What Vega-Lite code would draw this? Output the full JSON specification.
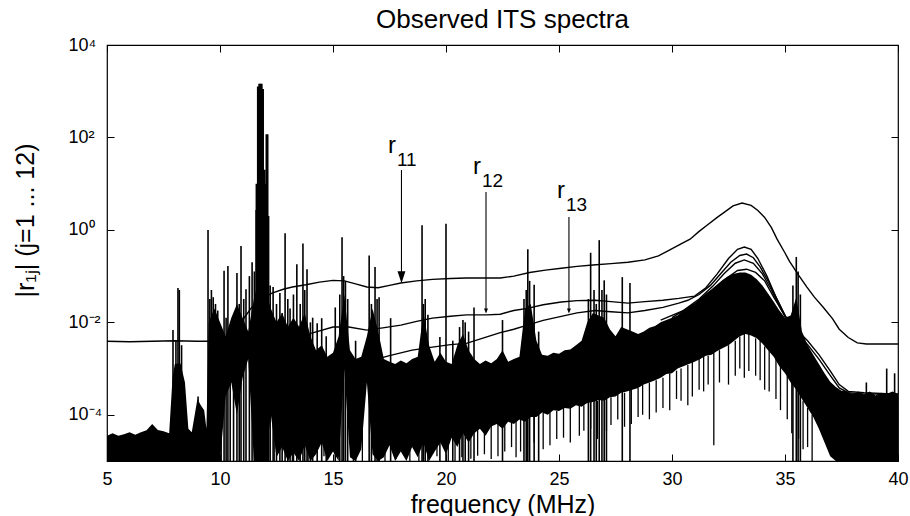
{
"$schema":"https://vega.github.io/schema/vega-lite/v6.json",
"width":791,"height":416,
"autosize":{"type":"none"},
"padding":{"left":107,"top":45,"right":12,"bottom":55},
"background":"white",
"title":{"text":"Observed ITS spectra","fontSize":26,"font":"Liberation Sans","fontWeight":"normal","color":"black","offset":3,"anchor":"middle"},
"config":{"font":"Liberation Sans","view":{"stroke":"black","strokeWidth":1.2},
 "axis":{"labelFont":"Liberation Sans","titleFont":"Liberation Sans","labelColor":"black","titleColor":"black","tickColor":"black","tickWidth":1,"grid":false,"domain":false,"labelFontSize":18,"titleFontSize":24,"titleFontWeight":"normal","labelFlush":false,"labelOverlap":false}},
"datasets":{
"noise":[
{"f":5,"hi":3.5e-5,"lo":1e-5},{"f":5.25,"hi":4.0e-5,"lo":1e-5},{"f":5.5,"hi":3.5e-5,"lo":1e-5},{"f":5.75,"hi":3.8e-5,"lo":1e-5},
{"f":6,"hi":4.2e-5,"lo":1e-5},{"f":6.25,"hi":3.7e-5,"lo":1e-5},{"f":6.5,"hi":4.2e-5,"lo":1e-5},{"f":6.75,"hi":4.6e-5,"lo":1e-5},
{"f":7,"hi":6.3e-5,"lo":1e-5},{"f":7.25,"hi":4.7e-5,"lo":1e-5},{"f":7.5,"hi":4.4e-5,"lo":1e-5},{"f":7.75,"hi":4.0e-5,"lo":1e-5},
{"f":7.9,"hi":6.3e-4,"lo":1e-5},{"f":8,"hi":1.26e-3,"lo":1e-5},{"f":8.25,"hi":1.3e-3,"lo":1e-5},{"f":8.45,"hi":5e-4,"lo":1e-5},
{"f":8.6,"hi":5e-5,"lo":1e-5},{"f":8.75,"hi":4.2e-5,"lo":1e-5},{"f":9,"hi":2.2e-4,"lo":1e-5},{"f":9.15,"hi":1.6e-4,"lo":1e-5},
{"f":9.3,"hi":1.26e-4,"lo":1e-5},{"f":9.4,"hi":5e-5,"lo":1e-5},{"f":9.5,"hi":1e-2,"lo":1e-5},{"f":9.75,"hi":2e-2,"lo":1e-5},
{"f":10,"hi":1e-2,"lo":1e-5},{"f":10.25,"hi":5e-3,"lo":2.5e-4},{"f":10.5,"hi":1.26e-2,"lo":5e-4},{"f":10.75,"hi":2.5e-2,"lo":1e-4},
{"f":11,"hi":1.26e-2,"lo":6.3e-4},{"f":11.25,"hi":6.3e-3,"lo":1.6e-3},{"f":11.5,"hi":3.2e-2,"lo":1e-5},{"f":11.75,"hi":0.1,"lo":1e-5},
{"f":12,"hi":5e-2,"lo":1e-5},{"f":12.25,"hi":2e-2,"lo":1e-4},{"f":12.5,"hi":1e-2,"lo":1.2e-5},{"f":12.75,"hi":1.6e-2,"lo":2e-5},
{"f":13,"hi":8e-3,"lo":1e-5},{"f":13.25,"hi":1.26e-2,"lo":1.5e-5},{"f":13.5,"hi":8e-3,"lo":1e-5},{"f":13.75,"hi":1.6e-2,"lo":2.2e-5},
{"f":14,"hi":5e-3,"lo":1e-5},{"f":14.25,"hi":2.5e-3,"lo":1.4e-5},{"f":14.5,"hi":3.2e-3,"lo":2.5e-5},{"f":14.75,"hi":1.8e-3,"lo":1e-5},
{"f":15,"hi":2.2e-3,"lo":1.6e-5},{"f":15.25,"hi":5e-3,"lo":1e-5},{"f":15.5,"hi":4e-2,"lo":1e-3},{"f":15.75,"hi":2.5e-3,"lo":1.2e-5},
{"f":16,"hi":1.6e-3,"lo":1e-5},{"f":16.25,"hi":1.8e-3,"lo":1.8e-5},{"f":16.5,"hi":5e-3,"lo":5e-4},{"f":16.75,"hi":2e-2,"lo":1.4e-5},
{"f":17,"hi":6.3e-3,"lo":1e-5},{"f":17.25,"hi":1.6e-3,"lo":1.2e-5},{"f":17.5,"hi":1.4e-3,"lo":2.2e-5},{"f":17.75,"hi":1.26e-3,"lo":1e-5},
{"f":18,"hi":1.5e-3,"lo":1.6e-5},{"f":18.25,"hi":1.3e-3,"lo":1e-5},{"f":18.5,"hi":1.6e-3,"lo":2e-5},{"f":18.75,"hi":1.8e-3,"lo":1.2e-5},
{"f":19,"hi":1.6e-2,"lo":2.5e-5},{"f":19.25,"hi":3.2e-3,"lo":1e-5},{"f":19.5,"hi":1.4e-3,"lo":1.6e-5},{"f":19.75,"hi":2.2e-3,"lo":2.5e-5},
{"f":20,"hi":1.4e-3,"lo":1.4e-5},{"f":20.25,"hi":1.26e-3,"lo":3.2e-5},{"f":20.5,"hi":3.2e-3,"lo":2e-5},{"f":20.75,"hi":5.6e-3,"lo":4e-5},
{"f":21,"hi":2.5e-3,"lo":2.5e-5},{"f":21.25,"hi":1.6e-3,"lo":4e-5},{"f":21.5,"hi":1.26e-3,"lo":5e-5},{"f":21.75,"hi":1.5e-3,"lo":3.5e-5},
{"f":22,"hi":1.3e-3,"lo":5.6e-5},{"f":22.25,"hi":1.6e-3,"lo":6.3e-5},{"f":22.5,"hi":2.5e-3,"lo":5e-5},{"f":22.75,"hi":1.4e-3,"lo":7.1e-5},
{"f":23,"hi":1.6e-3,"lo":6.3e-5},{"f":23.25,"hi":1.8e-3,"lo":7.9e-5},{"f":23.5,"hi":2e-2,"lo":7.1e-5},{"f":23.75,"hi":2.5e-2,"lo":8.9e-5},
{"f":24,"hi":4e-3,"lo":8.9e-5},{"f":24.25,"hi":2e-3,"lo":1.12e-4},{"f":24.5,"hi":1.9e-3,"lo":1e-4},{"f":24.75,"hi":2.2e-3,"lo":1.26e-4},
{"f":25,"hi":2.1e-3,"lo":1.2e-4},{"f":25.25,"hi":2.5e-3,"lo":1.4e-4},{"f":25.5,"hi":2.6e-3,"lo":1.35e-4},{"f":25.75,"hi":3.2e-3,"lo":1.6e-4},
{"f":26,"hi":4e-3,"lo":1.5e-4},{"f":26.25,"hi":1e-2,"lo":1.8e-4},{"f":26.5,"hi":1.6e-2,"lo":1.9e-4},{"f":26.75,"hi":1.4e-2,"lo":2.1e-4},
{"f":27,"hi":1.26e-2,"lo":2e-4},{"f":27.25,"hi":7.1e-3,"lo":2.4e-4},{"f":27.5,"hi":5e-3,"lo":2.5e-4},{"f":27.75,"hi":7.9e-3,"lo":3e-4},
{"f":28,"hi":7.1e-3,"lo":3.2e-4},{"f":28.25,"hi":6.3e-3,"lo":3.5e-4},{"f":28.5,"hi":5.6e-3,"lo":3.8e-4},{"f":28.75,"hi":6.3e-3,"lo":4.5e-4},
{"f":29,"hi":7.6e-3,"lo":5e-4},{"f":29.25,"hi":8.3e-3,"lo":5.6e-4},{"f":29.5,"hi":1e-2,"lo":6.3e-4},{"f":29.75,"hi":1.12e-2,"lo":7.6e-4},
{"f":30,"hi":1.26e-2,"lo":7.9e-4},{"f":30.25,"hi":1.4e-2,"lo":1e-3},{"f":30.5,"hi":1.8e-2,"lo":1.12e-3},{"f":30.75,"hi":2.2e-2,"lo":1.26e-3},
{"f":31,"hi":2.6e-2,"lo":1.4e-3},{"f":31.25,"hi":3.3e-2,"lo":1.6e-3},{"f":31.5,"hi":4.2e-2,"lo":1.9e-3},{"f":31.75,"hi":5.2e-2,"lo":2e-3},
{"f":32,"hi":6.6e-2,"lo":2.4e-3},{"f":32.25,"hi":8.3e-2,"lo":2.8e-3},{"f":32.5,"hi":0.1,"lo":3.2e-3},{"f":32.75,"hi":0.112,"lo":4e-3},
{"f":33,"hi":0.12,"lo":5e-3},{"f":33.25,"hi":0.12,"lo":5.6e-3},{"f":33.5,"hi":0.107,"lo":5.2e-3},{"f":33.75,"hi":8.5e-2,"lo":4.5e-3},
{"f":34,"hi":6.3e-2,"lo":3.5e-3},{"f":34.25,"hi":4.2e-2,"lo":2.5e-3},{"f":34.5,"hi":2.8e-2,"lo":1.8e-3},{"f":34.75,"hi":1.8e-2,"lo":1.12e-3},
{"f":35,"hi":1.26e-2,"lo":7.9e-4},{"f":35.25,"hi":1.4e-2,"lo":5e-4},{"f":35.5,"hi":3.5e-2,"lo":3.5e-4},{"f":35.75,"hi":6.3e-3,"lo":2.2e-4},
{"f":36,"hi":3.2e-3,"lo":1.4e-4},{"f":36.25,"hi":2e-3,"lo":8.9e-5},{"f":36.5,"hi":1.26e-3,"lo":5e-5},{"f":36.75,"hi":7.9e-4,"lo":2.5e-5},
{"f":37,"hi":5.2e-4,"lo":1.26e-5},{"f":37.25,"hi":4e-4,"lo":1e-5},{"f":37.5,"hi":3.3e-4,"lo":1e-5},{"f":37.75,"hi":3.2e-4,"lo":1e-5},
{"f":38,"hi":2.8e-4,"lo":1e-5},{"f":38.25,"hi":3.2e-4,"lo":1e-5},{"f":38.5,"hi":2.75e-4,"lo":1e-5},{"f":38.75,"hi":3.2e-4,"lo":1e-5},
{"f":39,"hi":2.6e-4,"lo":1e-5},{"f":39.25,"hi":3e-4,"lo":1e-5},{"f":39.5,"hi":2.8e-4,"lo":1e-5},{"f":39.75,"hi":3.2e-4,"lo":1e-5},
{"f":40,"hi":2.8e-4,"lo":1e-5}
],
"spikes":[
{"f":7.92,"top":6.8e-3},{"f":8.05,"top":4e-3},{"f":8.14,"top":5.5e-2},{"f":8.2,"top":5e-2},{"f":8.3,"top":3.2e-3},{"f":9.03,"top":2.5e-4},
{"f":9.47,"top":1.0},{"f":9.55,"top":3.2e-2},{"f":9.62,"top":5e-2},{"f":9.7,"top":3.5e-2},{"f":9.8,"top":2.5e-2},{"f":9.9,"top":1.8e-2},
{"f":10.05,"top":6.3e-3},{"f":10.18,"top":0.13},{"f":10.27,"top":1.26e-2},{"f":10.35,"top":0.166},{"f":10.45,"top":7.9e-3},{"f":10.6,"top":1.26e-2},
{"f":10.75,"top":0.117},{"f":10.85,"top":2.5e-2},{"f":10.93,"top":0.447},{"f":11.05,"top":3.2e-2},{"f":11.15,"top":5.2e-2},{"f":11.3,"top":0.1},
{"f":11.42,"top":0.2},{"f":11.52,"top":0.126},{"f":11.6,"top":2.7},{"f":12.15,"top":2.0},{"f":12.22,"top":6.3e-2},{"f":12.35,"top":5.8e-2},
{"f":12.5,"top":2.5e-2},{"f":12.65,"top":4.3e-2},{"f":12.75,"top":1.6e-2},{"f":12.88,"top":0.85},{"f":13.0,"top":3.2e-2},{"f":13.1,"top":2e-2},
{"f":13.25,"top":4e-2},{"f":13.4,"top":0.18},{"f":13.55,"top":2.5e-2},{"f":13.67,"top":0.51},{"f":13.75,"top":5e-2},{"f":13.85,"top":0.141},
{"f":14.0,"top":1e-2},{"f":14.1,"top":1.26e-2},{"f":14.3,"top":9.5e-3},{"f":14.5,"top":1.23e-2},{"f":14.7,"top":5e-3},{"f":15.1,"top":2.1e-2},
{"f":15.3,"top":4e-2},{"f":15.4,"top":0.69},{"f":15.47,"top":0.1},{"f":15.55,"top":7.9e-2},{"f":15.65,"top":3.2e-2},{"f":16.0,"top":4e-3},
{"f":16.6,"top":0.28},{"f":16.7,"top":2.5e-2},{"f":16.86,"top":0.158},{"f":16.95,"top":3.2e-2},{"f":17.04,"top":3.5e-2},{"f":17.55,"top":1.23e-2},
{"f":18.94,"top":1.26},{"f":19.0,"top":2.5e-2},{"f":19.08,"top":3.2e-2},{"f":19.2,"top":1.45e-2},{"f":19.73,"top":4.8e-3},{"f":20.0,"top":1.35},
{"f":20.3,"top":4e-3},{"f":20.6,"top":7.9e-3},{"f":20.75,"top":1.12e-2},{"f":20.85,"top":1e-2},{"f":21.0,"top":6.3e-3},{"f":21.24,"top":2.1e-2},
{"f":22.5,"top":1.12e-2},{"f":23.45,"top":3.2e-2},{"f":23.55,"top":5e-2},{"f":23.62,"top":0.38},{"f":23.7,"top":7.9e-2},{"f":23.9,"top":6.5e-2},
{"f":24.1,"top":6.3e-3},{"f":26.3,"top":3.2e-2},{"f":26.4,"top":0.32},{"f":26.55,"top":5e-2},{"f":26.65,"top":2.5e-2},{"f":26.78,"top":0.6},
{"f":26.9,"top":5e-2},{"f":27.0,"top":8.1e-2},{"f":27.1,"top":4e-2},{"f":27.8,"top":9.5e-2},{"f":28.14,"top":7.1e-2},{"f":35.35,"top":6.3e-2},
{"f":35.5,"top":0.26},{"f":35.58,"top":0.126},{"f":35.68,"top":4e-2},{"f":38.6,"top":5e-4},{"f":39.5,"top":1e-3},{"f":39.85,"top":7.9e-4}
],
"peak":[
{"f":11.64,"top":10},{"f":11.7,"top":1260},{"f":11.76,"top":1450},{"f":11.82,"top":1450},{"f":11.88,"top":1120},{"f":11.95,"top":20},{"f":12.0,"top":10},{"f":12.08,"top":117}
],
"icicles":[
{"f":12.4,"top":1e-4,"bot":1e-5},{"f":13.2,"top":5e-5,"bot":1e-5},{"f":13.9,"top":5e-5,"bot":1e-5},{"f":14.6,"top":6.3e-5,"bot":1.26e-5},
{"f":15.9,"top":3.2e-5,"bot":1e-5},{"f":16.3,"top":5e-5,"bot":1e-5},{"f":17.3,"top":4e-5,"bot":1e-5},{"f":17.8,"top":3.2e-5,"bot":1.12e-5},
{"f":18.4,"top":5e-5,"bot":1e-5},{"f":18.8,"top":4e-5,"bot":1e-5},{"f":19.6,"top":5e-5,"bot":1.26e-5},{"f":20.1,"top":4e-5,"bot":1e-5},
{"f":20.4,"top":6.3e-5,"bot":1e-5},{"f":20.7,"top":5e-5,"bot":1.2e-5},{"f":21.1,"top":5e-5,"bot":1.12e-5},{"f":21.4,"top":6e-5,"bot":1.3e-5},
{"f":21.7,"top":6.3e-5,"bot":1.4e-5},{"f":22.0,"top":6e-5,"bot":1.1e-5},{"f":22.3,"top":7.9e-5,"bot":1.26e-5},{"f":22.6,"top":7e-5,"bot":1.6e-5},
{"f":22.9,"top":8.9e-5,"bot":2e-5},{"f":23.1,"top":8e-5,"bot":1.2e-5},{"f":23.3,"top":1e-4,"bot":1.6e-5},{"f":23.6,"top":9e-5,"bot":2.2e-5},
{"f":23.9,"top":1.12e-4,"bot":2.5e-5},{"f":24.3,"top":1.1e-4,"bot":1.8e-5},{"f":24.6,"top":1.26e-4,"bot":2.2e-5},{"f":24.9,"top":1.2e-4,"bot":3e-5},
{"f":25.2,"top":1.4e-4,"bot":3.2e-5},{"f":25.5,"top":1.4e-4,"bot":2.5e-5},{"f":25.9,"top":1.6e-4,"bot":3.5e-5},{"f":26.1,"top":1.6e-4,"bot":4.5e-5},
{"f":26.4,"top":2e-4,"bot":5e-5},{"f":26.7,"top":2e-4,"bot":3e-5},{"f":27.1,"top":2.2e-4,"bot":4.5e-5},{"f":27.3,"top":2.4e-4,"bot":6e-5},
{"f":27.6,"top":2.8e-4,"bot":7.9e-5},{"f":27.9,"top":3e-4,"bot":5.5e-5},{"f":28.2,"top":3.5e-4,"bot":6.3e-5},{"f":28.5,"top":3.8e-4,"bot":9e-5},
{"f":28.7,"top":4.5e-4,"bot":1e-4},{"f":29.0,"top":5e-4,"bot":8e-5},{"f":29.3,"top":5.6e-4,"bot":1.12e-4},{"f":29.6,"top":6.3e-4,"bot":1.4e-4},
{"f":29.9,"top":7.9e-4,"bot":1.26e-4},{"f":30.2,"top":9e-4,"bot":2.2e-4},{"f":30.4,"top":1e-3,"bot":2e-4},{"f":30.7,"top":1.2e-3,"bot":1.6e-4},
{"f":30.9,"top":1.4e-3,"bot":2.5e-4},{"f":31.2,"top":1.6e-3,"bot":3.5e-4},{"f":31.4,"top":1.8e-3,"bot":3.2e-4},{"f":31.6,"top":1.9e-3,"bot":4.5e-4},
{"f":31.85,"top":2.2e-3,"bot":2.2e-5},{"f":32.1,"top":2.5e-3,"bot":5e-4},{"f":32.5,"top":3.2e-3,"bot":4.5e-4},{"f":32.8,"top":4e-3,"bot":7e-4},
{"f":33.0,"top":5e-3,"bot":1e-3},{"f":33.2,"top":5.6e-3,"bot":6.3e-4},{"f":33.4,"top":5.6e-3,"bot":8.9e-4},{"f":33.7,"top":4.5e-3,"bot":7e-4},
{"f":33.9,"top":4e-3,"bot":5.6e-4},{"f":34.1,"top":3e-3,"bot":3.5e-4},{"f":34.3,"top":2.5e-3,"bot":3.2e-4},{"f":34.6,"top":1.6e-3,"bot":2.2e-4},
{"f":34.8,"top":1.12e-3,"bot":1.26e-4},{"f":35.1,"top":7e-4,"bot":8e-5},{"f":35.3,"top":5e-4,"bot":4e-5},{"f":35.6,"top":3e-4,"bot":3e-5},
{"f":35.8,"top":2e-4,"bot":1.8e-5},{"f":36.0,"top":1.4e-4,"bot":2e-5},{"f":36.2,"top":1e-4,"bot":1e-5}
],
"curves":[
{"s":"r11","f":5,"v":3.9e-3},{"s":"r11","f":6,"v":3.8e-3},{"s":"r11","f":7,"v":3.9e-3},{"s":"r11","f":8,"v":4.0e-3},{"s":"r11","f":9,"v":3.9e-3},
{"s":"r11","f":10,"v":3.9e-3},{"s":"r11","f":10.4,"v":4.2e-3},{"s":"r11","f":10.7,"v":6.3e-3},{"s":"r11","f":11.0,"v":1.12e-2},{"s":"r11","f":11.4,"v":2.1e-2},
{"s":"r11","f":11.8,"v":3.2e-2},{"s":"r11","f":12.3,"v":4.3e-2},{"s":"r11","f":12.8,"v":5.2e-2},{"s":"r11","f":13.2,"v":5.8e-2},{"s":"r11","f":13.8,"v":6.5e-2},
{"s":"r11","f":14.4,"v":7.4e-2},{"s":"r11","f":15.0,"v":8.1e-2},{"s":"r11","f":15.5,"v":7.9e-2},{"s":"r11","f":16.0,"v":6.8e-2},{"s":"r11","f":16.5,"v":5.8e-2},
{"s":"r11","f":17.0,"v":5.6e-2},{"s":"r11","f":17.5,"v":6.3e-2},{"s":"r11","f":18.0,"v":7.1e-2},{"s":"r11","f":18.7,"v":7.9e-2},{"s":"r11","f":19.4,"v":8.5e-2},
{"s":"r11","f":20.2,"v":8.9e-2},{"s":"r11","f":20.9,"v":9.1e-2},{"s":"r11","f":21.6,"v":9.1e-2},{"s":"r11","f":22.4,"v":9.1e-2},{"s":"r11","f":23.0,"v":0.1},
{"s":"r11","f":23.7,"v":0.12},{"s":"r11","f":24.4,"v":0.135},{"s":"r11","f":25.1,"v":0.148},{"s":"r11","f":25.8,"v":0.162},{"s":"r11","f":26.5,"v":0.174},
{"s":"r11","f":27.3,"v":0.186},{"s":"r11","f":28.05,"v":0.2},{"s":"r11","f":28.8,"v":0.224},{"s":"r11","f":29.4,"v":0.275},{"s":"r11","f":29.8,"v":0.347},
{"s":"r11","f":30.4,"v":0.5},{"s":"r11","f":30.8,"v":0.63},{"s":"r11","f":31.2,"v":0.93},{"s":"r11","f":31.55,"v":1.26},{"s":"r11","f":32.0,"v":1.86},
{"s":"r11","f":32.4,"v":2.57},{"s":"r11","f":32.7,"v":3.31},{"s":"r11","f":33.1,"v":3.8},{"s":"r11","f":33.5,"v":3.39},{"s":"r11","f":33.8,"v":2.63},
{"s":"r11","f":34.1,"v":1.86},{"s":"r11","f":34.4,"v":1.12},{"s":"r11","f":34.65,"v":0.63},{"s":"r11","f":35.0,"v":0.316},{"s":"r11","f":35.2,"v":0.209},
{"s":"r11","f":35.6,"v":0.105},{"s":"r11","f":35.97,"v":5.8e-2},{"s":"r11","f":36.3,"v":3.5e-2},{"s":"r11","f":36.7,"v":2.1e-2},{"s":"r11","f":37.1,"v":1.2e-2},
{"s":"r11","f":37.4,"v":7.1e-3},{"s":"r11","f":37.8,"v":4.7e-3},{"s":"r11","f":38.2,"v":3.6e-3},{"s":"r11","f":38.6,"v":3.4e-3},{"s":"r11","f":39.3,"v":3.4e-3},
{"s":"r11","f":40,"v":3.4e-3},
{"s":"r12","f":11.0,"v":2.8e-3},{"s":"r12","f":11.5,"v":3.2e-3},{"s":"r12","f":12.5,"v":4e-3},{"s":"r12","f":13.5,"v":5e-3},{"s":"r12","f":14.1,"v":5.9e-3},
{"s":"r12","f":15.0,"v":7.9e-3},{"s":"r12","f":15.7,"v":7.9e-3},{"s":"r12","f":16.5,"v":6.8e-3},{"s":"r12","f":17.2,"v":7.6e-3},{"s":"r12","f":18.0,"v":8.7e-3},
{"s":"r12","f":18.7,"v":1.05e-2},{"s":"r12","f":19.4,"v":1.23e-2},{"s":"r12","f":20.2,"v":1.35e-2},{"s":"r12","f":20.9,"v":1.45e-2},{"s":"r12","f":21.8,"v":1.45e-2},
{"s":"r12","f":22.4,"v":1.5e-2},{"s":"r12","f":23.0,"v":1.8e-2},{"s":"r12","f":23.6,"v":2.0e-2},{"s":"r12","f":24.3,"v":2.4e-2},{"s":"r12","f":25.1,"v":2.75e-2},
{"s":"r12","f":25.8,"v":2.95e-2},{"s":"r12","f":26.6,"v":3.0e-2},{"s":"r12","f":27.3,"v":2.8e-2},{"s":"r12","f":28.05,"v":2.6e-2},{"s":"r12","f":28.8,"v":2.8e-2},
{"s":"r12","f":29.6,"v":3.0e-2},{"s":"r12","f":30.3,"v":3.3e-2},{"s":"r12","f":31.0,"v":3.7e-2},{"s":"r12","f":31.5,"v":5.6e-2},{"s":"r12","f":32.0,"v":0.112},
{"s":"r12","f":32.5,"v":0.24},{"s":"r12","f":32.9,"v":0.38},{"s":"r12","f":33.2,"v":0.427},{"s":"r12","f":33.5,"v":0.38},{"s":"r12","f":33.8,"v":0.24},
{"s":"r12","f":34.2,"v":0.1},{"s":"r12","f":34.6,"v":3.5e-2},{"s":"r12","f":35.0,"v":1.4e-2},{"s":"r12","f":35.5,"v":7.1e-3},{"s":"r12","f":36.0,"v":4e-3},
{"s":"r12","f":36.5,"v":2e-3},{"s":"r12","f":37.0,"v":8.9e-4},{"s":"r12","f":37.4,"v":4.5e-4},{"s":"r12","f":37.8,"v":3.2e-4},{"s":"r12","f":38.5,"v":3.0e-4},
{"s":"r12","f":40,"v":2.8e-4},
{"s":"r13","f":16.5,"v":1.4e-3},{"s":"r13","f":17.5,"v":1.9e-3},{"s":"r13","f":18.5,"v":2.5e-3},{"s":"r13","f":19.4,"v":2.9e-3},{"s":"r13","f":20.2,"v":3.3e-3},
{"s":"r13","f":20.9,"v":3.5e-3},{"s":"r13","f":21.6,"v":4.5e-3},{"s":"r13","f":22.4,"v":6e-3},{"s":"r13","f":23.0,"v":7.1e-3},{"s":"r13","f":23.6,"v":8.7e-3},
{"s":"r13","f":24.3,"v":1.1e-2},{"s":"r13","f":25.1,"v":1.35e-2},{"s":"r13","f":25.8,"v":1.6e-2},{"s":"r13","f":26.6,"v":1.8e-2},{"s":"r13","f":27.3,"v":1.7e-2},
{"s":"r13","f":28.05,"v":1.6e-2},{"s":"r13","f":28.8,"v":1.8e-2},{"s":"r13","f":29.6,"v":2.1e-2},{"s":"r13","f":30.3,"v":2.6e-2},{"s":"r13","f":30.7,"v":3.0e-2},
{"s":"r13","f":31.2,"v":4e-2},{"s":"r13","f":31.7,"v":6.3e-2},{"s":"r13","f":32.2,"v":0.12},{"s":"r13","f":32.6,"v":0.2},{"s":"r13","f":33.0,"v":0.28},
{"s":"r13","f":33.3,"v":0.3},{"s":"r13","f":33.6,"v":0.25},{"s":"r13","f":33.9,"v":0.158},{"s":"r13","f":34.3,"v":7.1e-2},{"s":"r13","f":34.7,"v":2.8e-2},
{"s":"r13","f":35.1,"v":1.12e-2},{"s":"r13","f":35.5,"v":6.3e-3},{"s":"r13","f":36.0,"v":3.3e-3},{"s":"r13","f":36.5,"v":1.6e-3},{"s":"r13","f":37.0,"v":7.1e-4},
{"s":"r13","f":37.4,"v":3.8e-4},{"s":"r13","f":37.8,"v":3e-4},{"s":"r13","f":38.5,"v":2.8e-4},{"s":"r13","f":40,"v":2.8e-4},
{"s":"r14","f":29.5,"v":1.12e-2},{"s":"r14","f":30.5,"v":1.8e-2},{"s":"r14","f":31.2,"v":3.2e-2},{"s":"r14","f":31.8,"v":6e-2},{"s":"r14","f":32.3,"v":0.112},
{"s":"r14","f":32.8,"v":0.19},{"s":"r14","f":33.2,"v":0.224},{"s":"r14","f":33.6,"v":0.19},{"s":"r14","f":34.0,"v":0.112},{"s":"r14","f":34.4,"v":5e-2},
{"s":"r14","f":34.8,"v":2e-2},{"s":"r14","f":35.2,"v":8.9e-3},
{"s":"r15","f":30.0,"v":1.26e-2},{"s":"r15","f":31.0,"v":2.5e-2},{"s":"r15","f":31.8,"v":5e-2},{"s":"r15","f":32.4,"v":8.9e-2},{"s":"r15","f":32.9,"v":0.132},
{"s":"r15","f":33.3,"v":0.141},{"s":"r15","f":33.7,"v":0.12},{"s":"r15","f":34.1,"v":7.9e-2},{"s":"r15","f":34.5,"v":3.5e-2},{"s":"r15","f":35.0,"v":1.4e-2}
],
"ann":[
{"name":"r11","f":18.03,"top":19.7,"head":0.095,"lf":17.43,"lv":45.9,"letter":"r","sub":"11"},
{"name":"r12","f":21.77,"top":6.58,"head":0.0175,"lf":21.19,"lv":16.1,"letter":"r","sub":"12"},
{"name":"r13","f":25.44,"top":1.89,"head":0.0175,"lf":24.91,"lv":4.88,"letter":"r","sub":"13"}
]
},
"resolve":{"axis":{"x":"independent","y":"independent"}},
"layer":[
{"data":{"name":"noise"},"mark":{"type":"area","color":"black","clip":true,"interpolate":"linear"},
 "encoding":{
  "x":{"field":"f","type":"quantitative","scale":{"domain":[5,40],"nice":false,"zero":false},
   "axis":{"orient":"bottom","values":[5,10,15,20,25,30,35,40],"tickSize":-7,"labelPadding":16,"title":"frequency (MHz)","titlePadding":4,"titleFontSize":25}},
  "y":{"field":"hi","type":"quantitative","scale":{"type":"log","domain":[1e-5,1e4],"nice":false},
   "axis":{"orient":"left","values":[1e-4,1e-2,1,100,10000],"tickSize":-7,"labelPadding":46,"labelAlign":"left","labelBaseline":"middle",
    "labelExpr":"datum.value >= 5000 ? '10⁴' : datum.value >= 50 ? '10²' : datum.value >= 0.5 ? '10⁰' : datum.value >= 0.005 ? '10⁻²' : '10⁻⁴'",
    "title":"|r₁ⱼ|  (j=1 ... 12)","titleX":-82,"titleY":175,"titleAlign":"center","titleBaseline":"middle","titleAngle":270,"titleFontSize":25}},
  "y2":{"field":"lo"}}},
{"data":{"name":"icicles"},"mark":{"type":"rule","color":"black","strokeWidth":1.3,"clip":true},
 "encoding":{"x":{"field":"f","type":"quantitative","axis":{"orient":"top","values":[5,10,15,20,25,30,35,40],"tickSize":-7,"labels":false,"title":null}},
  "y":{"field":"top","type":"quantitative","scale":{"type":"log","domain":[1e-5,1e4],"nice":false},
   "axis":{"orient":"right","values":[1e-4,1e-2,1,100,10000],"tickSize":-7,"labels":false,"title":null}},
  "y2":{"field":"bot"}}},
{"data":{"name":"spikes"},"mark":{"type":"rule","color":"black","strokeWidth":1.6,"clip":true},
 "encoding":{"x":{"field":"f","type":"quantitative","axis":null},
  "y":{"field":"top","type":"quantitative","scale":{"type":"log","domain":[1e-5,1e4],"nice":false},"axis":null},
  "y2":{"datum":1e-5}}},
{"data":{"name":"peak"},"mark":{"type":"rule","color":"black","strokeWidth":3,"clip":true},
 "encoding":{"x":{"field":"f","type":"quantitative","axis":null},
  "y":{"field":"top","type":"quantitative","scale":{"type":"log","domain":[1e-5,1e4],"nice":false},"axis":null},
  "y2":{"datum":1e-5}}},
{"data":{"name":"curves"},"mark":{"type":"line","color":"black","strokeWidth":1.4,"clip":true},
 "encoding":{"x":{"field":"f","type":"quantitative","axis":null},
  "y":{"field":"v","type":"quantitative","scale":{"type":"log","domain":[1e-5,1e4],"nice":false},"axis":null},
  "detail":{"field":"s","type":"nominal"}}},
{"data":{"name":"ann"},"mark":{"type":"rule","color":"black","strokeWidth":1.1},
 "encoding":{"x":{"field":"f","type":"quantitative","axis":null},
  "y":{"field":"top","type":"quantitative","scale":{"type":"log","domain":[1e-5,1e4],"nice":false},"axis":null},
  "y2":{"field":"head"}}},
{"data":{"name":"ann"},"transform":[{"filter":"datum.name == 'r11'"}],
 "mark":{"type":"point","shape":"M-0.33,-0.5L0.33,-0.5L0,0.5Z","size":576,"filled":true,"color":"black","opacity":1},
 "encoding":{"x":{"field":"f","type":"quantitative","axis":null},
  "y":{"field":"head","type":"quantitative","scale":{"type":"log","domain":[1e-5,1e4],"nice":false},"axis":null}}},
{"data":{"name":"ann"},"transform":[{"filter":"datum.name != 'r11'"}],
 "mark":{"type":"point","shape":"M-0.4,-0.5L0.4,-0.5L0,0.5Z","size":100,"filled":true,"color":"black","opacity":1},
 "encoding":{"x":{"field":"f","type":"quantitative","axis":null},
  "y":{"field":"head","type":"quantitative","scale":{"type":"log","domain":[1e-5,1e4],"nice":false},"axis":null}}},
{"data":{"name":"ann"},"mark":{"type":"text","align":"left","baseline":"alphabetic","fontSize":24,"font":"Liberation Sans","color":"black"},
 "encoding":{"x":{"field":"lf","type":"quantitative","axis":null},
  "y":{"field":"lv","type":"quantitative","scale":{"type":"log","domain":[1e-5,1e4],"nice":false},"axis":null},
  "text":{"field":"letter"}}},
{"data":{"name":"ann"},"mark":{"type":"text","align":"left","baseline":"alphabetic","fontSize":19,"font":"Liberation Sans","color":"black","dx":9,"dy":13},
 "encoding":{"x":{"field":"lf","type":"quantitative","axis":null},
  "y":{"field":"lv","type":"quantitative","scale":{"type":"log","domain":[1e-5,1e4],"nice":false},"axis":null},
  "text":{"field":"sub"}}}
]
}
